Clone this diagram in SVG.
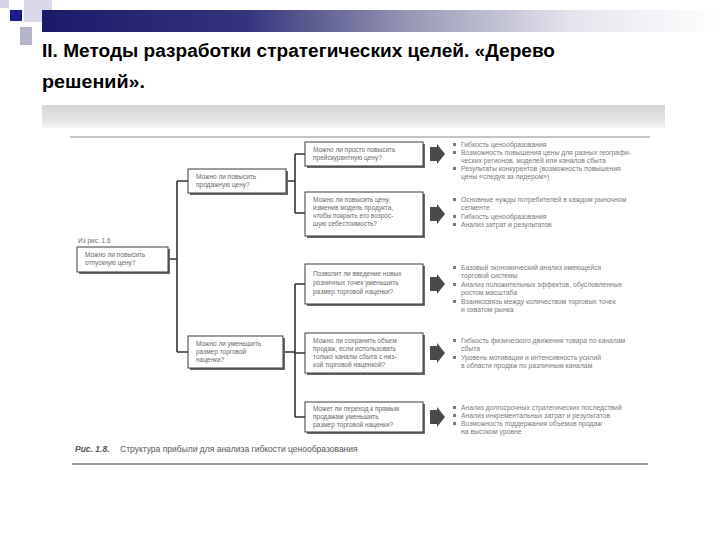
<svg xmlns="http://www.w3.org/2000/svg" width="720" height="540" viewBox="0 0 720 540">
<defs>
<linearGradient id="band" x1="0" y1="0" x2="1" y2="0">
<stop offset="0" stop-color="#1a1a6a"/>
<stop offset="0.3" stop-color="#34347c"/>
<stop offset="0.55" stop-color="#9a9ab8"/>
<stop offset="0.78" stop-color="#e4e4ee"/>
<stop offset="1" stop-color="#ffffff"/>
</linearGradient>
<linearGradient id="scanTop" x1="0" y1="0" x2="0" y2="1">
<stop offset="0" stop-color="#d4d4d4"/>
<stop offset="0.7" stop-color="#e6e6e6"/>
<stop offset="1" stop-color="#f6f6f6"/>
</linearGradient>
<path id="arr" d="M0,-7 h7 v-3 l8,10 l-8,10 v-3 h-7 z"/>
</defs>
<style>
.title{font-family:"Liberation Sans",Arial,sans-serif;font-weight:bold;font-size:18px;fill:#000}
.bx{fill:#fff;stroke:#3a3a3a;stroke-width:1}
.sh{fill:#6a6a6a}
.bt{font-family:"Liberation Sans",Arial,sans-serif;font-size:6.5px;fill:#6a6a6a}
.lt{font-family:"Liberation Sans",Arial,sans-serif;font-size:6.8px;fill:#7a7a7a}
.bul{fill:#777}
.con{fill:none;stroke:#333;stroke-width:1.6}
.ar{fill:#4a4a4a}
.cap{font-family:"Liberation Sans",Arial,sans-serif;font-size:8.5px;fill:#555}
</style>
<rect width="720" height="540" fill="#fff"/>
<g id="decor">
<rect x="0" y="0" width="9" height="8" fill="#d4d4e8"/>
<rect x="24" y="0" width="28" height="22" fill="#d8d8ea"/>
<rect x="20" y="27" width="12" height="18" fill="#b4b4cc"/>
<rect x="42" y="10" width="678" height="22" fill="url(#band)"/>
<rect x="10" y="10" width="12" height="11" fill="#1c1c90"/>
</g>
<g id="title">
<text class="title" x="42" y="57" textLength="513" lengthAdjust="spacingAndGlyphs">II. Методы разработки стратегических целей. «Дерево</text>
<text class="title" x="42" y="88" textLength="103" lengthAdjust="spacingAndGlyphs">решений».</text>
</g>
<rect x="42" y="105" width="623" height="23" fill="url(#scanTop)"/>
<line x1="70" y1="137" x2="650" y2="137" stroke="#8a8a8a" stroke-width="1.2"/>
<g id="connectors">
<path class="con" d="M168,259 H177 M177,181 V352 M177,181 H188 M177,352 H188"/>
<path class="con" d="M286,181 H295 M295,154 V213 M295,154 H305 M295,213 H305"/>
<path class="con" d="M283,352 H295 M295,284 V417 M295,284 H305 M295,353 H305 M295,417 H305"/>
</g>
<g id="root">
<text class="bt" x="78" y="243">Из рис. 1.6</text>
<rect class="sh" x="79" y="249" width="91" height="25"/>
<rect class="bx" x="77" y="247" width="91" height="25"/>
<text class="bt" x="85" y="257">Можно ли повысить</text>
<text class="bt" x="85" y="265">отпускную цену?</text>
</g>
<g id="nodeA">
<rect class="sh" x="190" y="171" width="98" height="24"/>
<rect class="bx" x="188" y="169" width="98" height="24"/>
<text class="bt" x="196" y="179">Можно ли повысить</text>
<text class="bt" x="196" y="187">продажную цену?</text>
</g>
<g id="nodeB">
<rect class="sh" x="190" y="338" width="95" height="32"/>
<rect class="bx" x="188" y="336" width="95" height="32"/>
<text class="bt" x="196" y="346">Можно ли уменьшить</text>
<text class="bt" x="196" y="354">размер торговой</text>
<text class="bt" x="196" y="362">наценки?</text>
</g>
<g id="n1">
<rect class="sh" x="307" y="144" width="118" height="24"/>
<rect class="bx" x="305" y="142" width="118" height="24"/>
<text class="bt" x="313" y="152">Можно ли просто повысить</text>
<text class="bt" x="313" y="160">прейскурантную цену?</text>
<use href="#arr" class="ar" x="430" y="154"/>
<rect class="bul" x="453" y="143" width="3" height="3"/>
<rect class="bul" x="453" y="151" width="3" height="3"/>
<rect class="bul" x="453" y="167" width="3" height="3"/>
<text class="lt" x="461" y="147">Гибкость ценообразования</text>
<text class="lt" x="461" y="155">Возможность повышения цены для разных географи-</text>
<text class="lt" x="461" y="163">ческих регионов, моделей или каналов сбыта</text>
<text class="lt" x="461" y="171">Результаты конкурентов (возможность повышения</text>
<text class="lt" x="461" y="179">цены «следуя за лидером»)</text>
</g>
<g id="n2">
<rect class="sh" x="307" y="194" width="118" height="44"/>
<rect class="bx" x="305" y="192" width="118" height="44"/>
<text class="bt" x="313" y="202">Можно ли повысить цену,</text>
<text class="bt" x="313" y="210">изменив модель продукта,</text>
<text class="bt" x="313" y="218">чтобы покрыть его возрос-</text>
<text class="bt" x="313" y="226">шую себестоимость?</text>
<use href="#arr" class="ar" x="430" y="214"/>
<rect class="bul" x="453" y="198" width="3" height="3"/>
<rect class="bul" x="453" y="215" width="3" height="3"/>
<rect class="bul" x="453" y="223" width="3" height="3"/>
<text class="lt" x="461" y="202">Основные нужды потребителей в каждом рыночном</text>
<text class="lt" x="461" y="210">сегменте</text>
<text class="lt" x="461" y="219">Гибкость ценообразования</text>
<text class="lt" x="461" y="227">Анализ затрат и результатов</text>
</g>
<g id="n3">
<rect class="sh" x="307" y="266" width="118" height="40"/>
<rect class="bx" x="305" y="264" width="118" height="40"/>
<text class="bt" x="313" y="276">Позволит ли введение новых</text>
<text class="bt" x="313" y="285">розничных точек уменьшить</text>
<text class="bt" x="313" y="294">размер торговой наценки?</text>
<use href="#arr" class="ar" x="430" y="284"/>
<rect class="bul" x="453" y="266" width="3" height="3"/>
<rect class="bul" x="453" y="283" width="3" height="3"/>
<rect class="bul" x="453" y="300" width="3" height="3"/>
<text class="lt" x="461" y="270">Базовый экономический анализ имеющейся</text>
<text class="lt" x="461" y="278">торговой системы</text>
<text class="lt" x="461" y="287">Анализ положительных эффектов, обусловленных</text>
<text class="lt" x="461" y="295">ростом масштаба</text>
<text class="lt" x="461" y="304">Взаимосвязь между количеством торговых точек</text>
<text class="lt" x="461" y="312">и охватом рынка</text>
</g>
<g id="n4">
<rect class="sh" x="307" y="335" width="118" height="40"/>
<rect class="bx" x="305" y="333" width="118" height="40"/>
<text class="bt" x="313" y="343">Можно ли сохранить объем</text>
<text class="bt" x="313" y="351">продаж, если использовать</text>
<text class="bt" x="313" y="359">только каналы сбыта с низ-</text>
<text class="bt" x="313" y="367">кой торговой наценкой?</text>
<use href="#arr" class="ar" x="430" y="353"/>
<rect class="bul" x="453" y="339" width="3" height="3"/>
<rect class="bul" x="453" y="356" width="3" height="3"/>
<text class="lt" x="461" y="343">Гибкость физического движения товара по каналам</text>
<text class="lt" x="461" y="351">сбыта</text>
<text class="lt" x="461" y="360">Уровень мотивации и интенсивность усилий</text>
<text class="lt" x="461" y="368">в области продаж по различным каналам</text>
</g>
<g id="n5">
<rect class="sh" x="307" y="404" width="118" height="30"/>
<rect class="bx" x="305" y="402" width="118" height="30"/>
<text class="bt" x="313" y="411">Может ли переход к прямым</text>
<text class="bt" x="313" y="419">продажам уменьшить</text>
<text class="bt" x="313" y="427">размер торговой наценки?</text>
<use href="#arr" class="ar" x="430" y="417"/>
<rect class="bul" x="453" y="406" width="3" height="3"/>
<rect class="bul" x="453" y="414" width="3" height="3"/>
<rect class="bul" x="453" y="422" width="3" height="3"/>
<text class="lt" x="461" y="410">Анализ долгосрочных стратегических последствий</text>
<text class="lt" x="461" y="418">Анализ инкрементальных затрат и результатов</text>
<text class="lt" x="461" y="426">Возможность поддержания объемов продаж</text>
<text class="lt" x="461" y="434">на высоком уровне</text>
</g>
<g id="caption">
<text class="cap" x="75" y="452"><tspan font-weight="bold" font-style="italic">Рис. 1.8.</tspan><tspan x="120">Структура прибыли для анализа гибкости ценообразования</tspan></text>
<line x1="72" y1="464" x2="648" y2="464" stroke="#777" stroke-width="1.5"/>
</g>
</svg>
